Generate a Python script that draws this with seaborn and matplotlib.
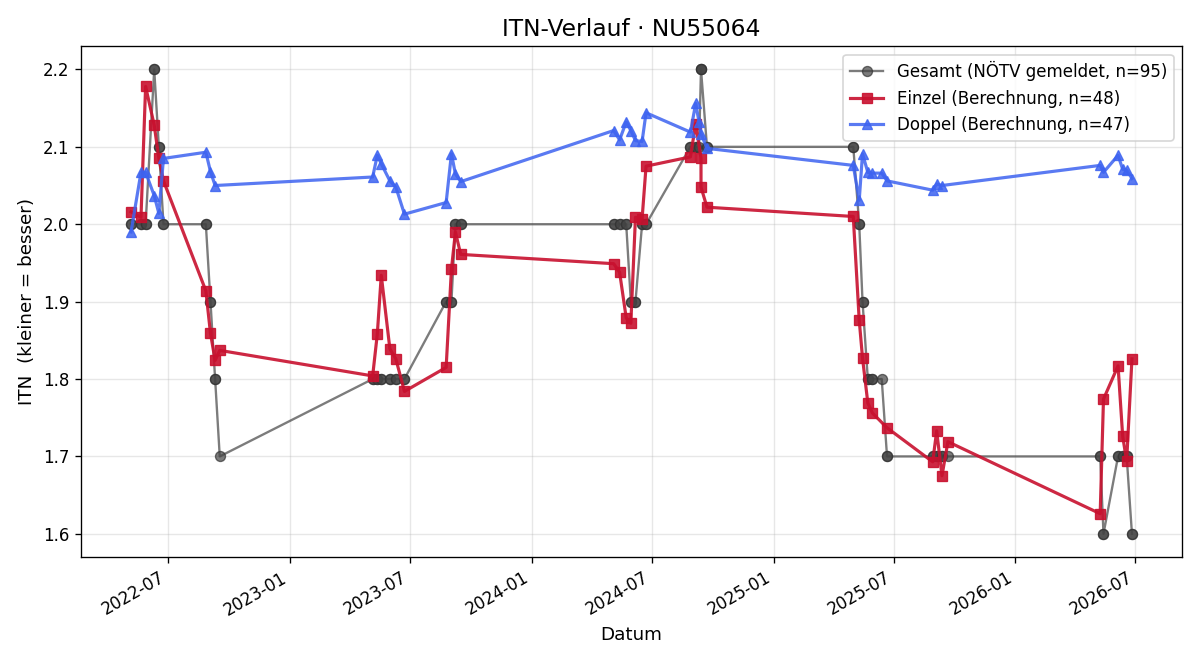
import pandas as pd
import numpy as np
import seaborn as sns
import matplotlib.pyplot as plt
import matplotlib.dates as mdates

# ---- Einzel (Berechnung) ----
einzel_dates = [
    "2022-05-06", "2022-05-21", "2022-05-28", "2022-06-10", "2022-06-17",
    "2022-06-24", "2022-08-27", "2022-09-03", "2022-09-10", "2022-09-17",
    "2023-05-06", "2023-05-13", "2023-05-19", "2023-06-01", "2023-06-10",
    "2023-06-23", "2023-08-25", "2023-09-02", "2023-09-08", "2023-09-16",
    "2024-05-04", "2024-05-13", "2024-05-23", "2024-05-30", "2024-06-06",
    "2024-06-16", "2024-06-22", "2024-08-28", "2024-09-05", "2024-09-13",
    "2024-09-13", "2024-09-22",
    "2025-05-01", "2025-05-10", "2025-05-15", "2025-05-23", "2025-05-30",
    "2025-06-21", "2025-08-29", "2025-09-04", "2025-09-12", "2025-09-21",
    "2026-05-09", "2026-05-14", "2026-06-05", "2026-06-12", "2026-06-18",
    "2026-06-26",
]
einzel_itn = [
    2.016, 2.009, 2.178, 2.128, 2.085, 2.056, 1.914, 1.859, 1.824, 1.837,
    1.804, 1.858, 1.934, 1.839, 1.826, 1.784, 1.815, 1.942, 1.990, 1.961,
    1.949, 1.938, 1.879, 1.872, 2.009, 2.007, 2.075, 2.087, 2.130, 2.085,
    2.048, 2.022,
    2.010, 1.876, 1.827, 1.769, 1.756, 1.737, 1.693, 1.733, 1.675, 1.719,
    1.626, 1.774, 1.817, 1.726, 1.694, 1.826,
]

# ---- Doppel (Berechnung) ----
doppel_dates = [
    "2022-05-06", "2022-05-21", "2022-05-28", "2022-06-10", "2022-06-17",
    "2022-06-24", "2022-08-27", "2022-09-03", "2022-09-10",
    "2023-05-06", "2023-05-13", "2023-05-19", "2023-06-01", "2023-06-10",
    "2023-06-23", "2023-08-25", "2023-09-02", "2023-09-08", "2023-09-16",
    "2024-05-04", "2024-05-13", "2024-05-23", "2024-05-30", "2024-06-06",
    "2024-06-16", "2024-06-22", "2024-08-28", "2024-09-05", "2024-09-10",
    "2024-09-13", "2024-09-22",
    "2025-05-01", "2025-05-10", "2025-05-15", "2025-05-23", "2025-05-30",
    "2025-06-13", "2025-06-21", "2025-08-29", "2025-09-04", "2025-09-12",
    "2026-05-09", "2026-05-14", "2026-06-05", "2026-06-12", "2026-06-18",
    "2026-06-26",
]
doppel_itn = [
    1.990, 2.067, 2.067, 2.037, 2.014, 2.085, 2.093, 2.068, 2.050,
    2.061, 2.089, 2.078, 2.056, 2.048, 2.013, 2.028, 2.091, 2.065, 2.055,
    2.121, 2.109, 2.132, 2.121, 2.108, 2.107, 2.144, 2.119, 2.156, 2.132,
    2.117, 2.098,
    2.076, 2.031, 2.091, 2.067, 2.066, 2.066, 2.056, 2.044, 2.052, 2.050,
    2.076, 2.067, 2.089, 2.071, 2.070, 2.059,
]

# ---- Gesamt (NÖTV gemeldet), ITN je Spieltag ----
gesamt_dates = [
    "2022-05-06", "2022-05-21", "2022-05-28", "2022-06-10", "2022-06-17",
    "2022-06-24", "2022-08-27", "2022-09-03", "2022-09-10", "2022-09-17",
    "2023-05-06", "2023-05-13", "2023-05-19", "2023-06-01", "2023-06-10",
    "2023-06-23", "2023-08-25", "2023-09-02", "2023-09-08", "2023-09-16",
    "2024-05-04", "2024-05-13", "2024-05-23", "2024-05-30", "2024-06-06",
    "2024-06-16", "2024-06-22", "2024-08-28", "2024-09-05", "2024-09-10",
    "2024-09-13", "2024-09-22",
    "2025-05-01", "2025-05-10", "2025-05-15", "2025-05-23", "2025-05-30",
    "2025-06-13", "2025-06-21", "2025-08-29", "2025-09-04", "2025-09-12",
    "2025-09-21",
    "2026-05-09", "2026-05-14", "2026-06-05", "2026-06-12", "2026-06-18",
    "2026-06-26",
]
gesamt_itn = [
    2.0, 2.0, 2.0, 2.2, 2.1, 2.0, 2.0, 1.9, 1.8, 1.7,
    1.8, 1.8, 1.8, 1.8, 1.8, 1.8, 1.9, 1.9, 2.0, 2.0,
    2.0, 2.0, 2.0, 1.9, 1.9, 2.0, 2.0, 2.1, 2.1, 2.1, 2.2, 2.1,
    2.1, 2.0, 1.9, 1.8, 1.8, 1.8, 1.7, 1.7, 1.7, 1.7, 1.7,
    1.7, 1.6, 1.7, 1.7, 1.7, 1.6,
]

einzel = pd.DataFrame({"datum": pd.to_datetime(einzel_dates), "itn": einzel_itn})
doppel = pd.DataFrame({"datum": pd.to_datetime(doppel_dates), "itn": doppel_itn})

# Gesamt: one point per match (Einzel + Doppel), value as reported on that day
lookup = dict(zip(pd.to_datetime(gesamt_dates), gesamt_itn))
gesamt = pd.DataFrame({"datum": pd.concat([einzel["datum"], doppel["datum"]], ignore_index=True)})
gesamt["itn"] = gesamt["datum"].map(lookup)
gesamt = gesamt.sort_values("datum", kind="stable").reset_index(drop=True)

plt.rcParams["font.family"] = ["DejaVu Sans"]

fig, ax = plt.subplots(figsize=(10, 5.5), dpi=120)
fig.subplots_adjust(left=0.0675, right=0.985, top=0.930, bottom=0.156)

sns.lineplot(data=gesamt, x="datum", y="itn", ax=ax, estimator=None, sort=False,
             color="#444444", alpha=0.7, linewidth=1.4, marker="o", markersize=6,
             markeredgecolor="#333333", markeredgewidth=0.8,
             label=f"Gesamt (NÖTV gemeldet, n={len(gesamt)})")
sns.lineplot(data=einzel, x="datum", y="itn", ax=ax, estimator=None, sort=False,
             color="#c8102e", alpha=0.9, linewidth=1.9, marker="s", markersize=6,
             markeredgecolor="#c8102e", markeredgewidth=0.8,
             label=f"Einzel (Berechnung, n={len(einzel)})")
sns.lineplot(data=doppel, x="datum", y="itn", ax=ax, estimator=None, sort=False,
             color="#3d63f0", alpha=0.85, linewidth=1.9, marker="^", markersize=6,
             markeredgecolor="#3d63f0", markeredgewidth=0.8,
             label=f"Doppel (Berechnung, n={len(doppel)})")

ax.set_title("ITN-Verlauf · NU55064", fontsize=14)
ax.set_xlabel("Datum", fontsize=11)
ax.set_ylabel("ITN  (kleiner = besser)", fontsize=11)
ax.grid(True, alpha=0.3)

ax.xaxis.set_major_locator(mdates.MonthLocator(bymonth=[1, 7]))
ax.xaxis.set_major_formatter(mdates.DateFormatter("%Y-%m"))
for lab in ax.get_xticklabels():
    lab.set_rotation(30)
    lab.set_ha("right")

ax.legend(loc="upper right", fontsize=10)

fig.savefig("out.png", dpi=120)
